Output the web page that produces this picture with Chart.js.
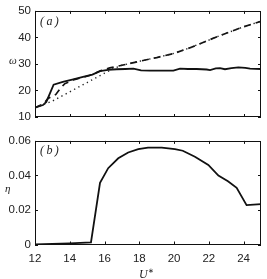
<!DOCTYPE html>
<html><head><meta charset="utf-8">
<script src="https://cdn.jsdelivr.net/npm/chart.js@4/dist/chart.umd.min.js"></script>
<style>
html,body{margin:0;padding:0;background:#fff;}
#wrap{position:relative;width:267px;height:279px;overflow:hidden;}
canvas{position:absolute;left:0;}
.lbl{position:absolute;font-family:"Liberation Serif",serif;font-style:italic;color:#222;font-size:12px;line-height:12px;white-space:nowrap;}
</style></head><body>
<div id="wrap">
<canvas id="c1" style="top:0" width="267" height="130"></canvas>
<canvas id="c2" style="top:130px" width="267" height="149"></canvas>
<div class="lbl" style="left:9px;top:54px;font-size:11px;">ω</div>
<div class="lbl" style="left:40px;top:15px;">(&thinsp;a&thinsp;)</div>
<div class="lbl" style="left:5px;top:182px;font-size:11px;">η</div>
<div class="lbl" style="left:40px;top:144px;">(&thinsp;b&thinsp;)</div>
<div class="lbl" style="left:139px;top:265px;">U<sup style="font-size:7px;font-style:normal;vertical-align:5px;">∗</sup></div>
</div>
<script>
// ---- data ----
const xTicks = [12, 14, 16, 18, 20, 22, 24];
const omegaTicks = [10, 20, 30, 40, 50];
const etaTicks = [0, 0.02, 0.04, 0.06];

const omegaSolidU = [12, 12.46, 12.65, 13.07, 13.6, 14.2, 14.76, 15.3, 15.74, 16.2, 16.7, 17.2, 17.66, 18.1, 18.6, 19.1, 19.6, 19.96, 20.34, 20.8, 21.3, 21.88, 22.07, 22.4, 22.64, 22.93, 23.3, 23.7, 24.1, 24.37, 25];
const omegaSolid  = [13.5, 14.5, 15.7, 22.2, 23.2, 24.2, 25.1, 26.0, 27.3, 27.8, 28.0, 28.1, 28.2, 27.6, 27.5, 27.5, 27.5, 27.5, 28.2, 28.1, 28.1, 27.9, 27.7, 28.3, 28.4, 28.0, 28.4, 28.7, 28.5, 28.2, 28.1];

const omegaDashedU = [12, 12.5, 12.75, 13.2, 13.45, 13.7, 14.2, 14.8, 15.3, 15.8, 16.3, 17, 18, 19, 20, 21, 22, 23, 24, 25];
const omegaDashed  = [13.5, 15.0, 17.0, 18.5, 20.7, 22.5, 24.0, 25.0, 26.0, 27.5, 28.5, 29.5, 31.0, 32.4, 34.0, 36.3, 39.0, 41.6, 44.0, 46.1];

const omegaDottedU = [12, 13, 14, 15, 16, 16.5, 17, 18, 19, 20, 21, 22, 23, 24, 25];
const omegaDotted  = [13.5, 16.0, 19.5, 23.0, 26.5, 28.2, 29.5, 31.0, 32.4, 34.0, 36.3, 39.0, 41.6, 44.0, 46.1];

const etaSolidU = [12, 13, 14, 15.22, 15.74, 16.21, 16.79, 17.36, 17.94, 18.5, 19.29, 20.05, 20.5, 21.2, 21.97, 22.55, 23.1, 23.6, 24.17, 25];
const etaSolid  = [0, 0.0003, 0.0007, 0.0012, 0.0357, 0.0442, 0.0499, 0.0533, 0.0552, 0.0561, 0.0561, 0.0553, 0.0543, 0.0508, 0.0461, 0.0399, 0.0366, 0.0328, 0.0228, 0.0234];
const etaZeroU = [12, 25];
const etaZero  = [0, 0];

// ---- helpers ----
const pts = (xs, ys) => xs.map((x, i) => ({x: x, y: ys[i]}));
const tickFont = {family: "'Liberation Sans', Arial, sans-serif", size: 11.5};

const framePlugin = {
  id: 'frame',
  afterDraw(chart) {
    const {ctx, chartArea: a, scales} = chart;
    const tl = 3;
    ctx.save();
    ctx.strokeStyle = '#111';
    ctx.lineWidth = 1;
    ctx.strokeRect(Math.round(a.left) + 0.5, Math.round(a.top) + 0.5, Math.round(a.right - a.left) - 1, Math.round(a.bottom - a.top) - 1);
    ctx.beginPath();
    xTicks.forEach(v => {
      const px = Math.round(scales.x.getPixelForValue(v)) + 0.5;
      ctx.moveTo(px, a.bottom); ctx.lineTo(px, a.bottom - tl);
      ctx.moveTo(px, a.top); ctx.lineTo(px, a.top + tl);
    });
    scales.y.ticks.forEach(t => {
      const py = Math.round(scales.y.getPixelForValue(t.value)) + 0.5;
      ctx.moveTo(a.left, py); ctx.lineTo(a.left + tl, py);
      ctx.moveTo(a.right, py); ctx.lineTo(a.right - tl, py);
    });
    ctx.stroke();
    ctx.restore();
  }
};

function makeChart(id, datasets, yMin, yMax, yTickVals, yFmt, showX, pad, xHeight) {
  return new Chart(document.getElementById(id), {
    type: 'line',
    data: {datasets: datasets},
    options: {
      responsive: false,
      animation: false,
      devicePixelRatio: 1,
      layout: {padding: pad},
      plugins: {legend: {display: false}, tooltip: {enabled: false}},
      elements: {point: {radius: 0}, line: {tension: 0}},
      scales: {
        x: {
          type: 'linear', min: 12, max: 25,
          afterBuildTicks: s => { s.ticks = xTicks.map(v => ({value: v})); },
          afterFit: s => { s.height = xHeight; },
          grid: {display: false, drawTicks: false},
          border: {display: false},
          ticks: {display: showX, padding: 7, color: '#222', font: tickFont, maxRotation: 0, autoSkip: false}
        },
        y: {
          type: 'linear', min: yMin, max: yMax,
          afterBuildTicks: s => { s.ticks = yTickVals.map(v => ({value: v})); },
          afterFit: s => { s.width = 35; },
          grid: {display: false, drawTicks: false},
          border: {display: false},
          ticks: {padding: 4, color: '#222', font: tickFont, callback: yFmt}
        }
      }
    },
    plugins: [framePlugin]
  });
}

makeChart('c1', [
  {data: pts(omegaDottedU, omegaDotted), borderColor: '#222', borderWidth: 1.4, borderDash: [1.3, 3.5], fill: false},
  {data: pts(omegaDashedU, omegaDashed), borderColor: '#111', borderWidth: 1.7, borderDash: [7, 5], fill: false},
  {data: pts(omegaSolidU, omegaSolid), borderColor: '#111', borderWidth: 1.8, fill: false}
], 10, 50, omegaTicks, v => String(v), false, {top: 10, right: 6, left: 0, bottom: 0}, 13);

makeChart('c2', [
  {data: pts(etaZeroU, etaZero), borderColor: '#999', borderWidth: 1, borderDash: [6, 3, 1, 3], fill: false},
  {data: pts(etaSolidU, etaSolid), borderColor: '#111', borderWidth: 1.8, fill: false}
], 0, 0.06, etaTicks, v => (v === 0 ? '0' : String(Number(v.toFixed(2)))), true, {top: 9, right: 6, left: 0, bottom: 0}, 34.5);
</script>
</body></html>
